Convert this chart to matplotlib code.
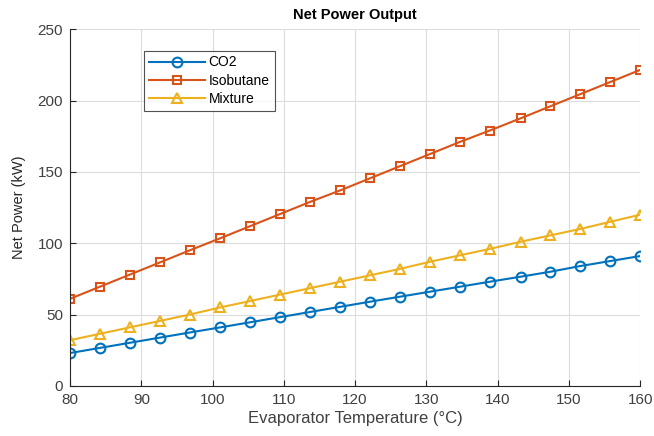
import matplotlib.pyplot as plt

plt.rcParams['font.family'] = ['Liberation Sans', 'DejaVu Sans']

# evaporator temperature (C)
temps = [80, 84.2, 88.4, 92.6, 96.8, 101.1, 105.3, 109.5, 113.7, 117.9,
         122.1, 126.3, 130.5, 134.7, 138.9, 143.2, 147.4, 151.6, 155.8, 160]
# net power (kW)
co2 = [23, 26.6, 30.2, 33.8, 37.4, 41, 44.6, 48.2, 51.8, 55.4,
       59, 62.5, 66, 69.5, 73, 76.5, 80, 84, 87.5, 91]
isobutane = [61, 69.5, 78, 86.5, 95, 103.5, 112, 120.5, 129, 137,
             145.5, 154, 162.5, 171, 179, 187.5, 196, 204.5, 213, 221.5]
mixture = [32, 36.5, 41, 45.5, 50, 55, 59.5, 64, 68.5, 73,
           77.5, 82, 87, 91.5, 96, 101, 105.5, 110, 115, 120]

fig = plt.figure(figsize=(6.54, 4.36), dpi=100)
ax = fig.add_axes([0.107, 0.115, 0.872, 0.818])

ax.plot(temps, co2, '-o', color='#0072BD', lw=1.5, ms=7, mfc='none', mew=1.5, label='CO2')
ax.plot(temps, isobutane, '-s', color='#D95319', lw=1.5, ms=6, mfc='none', mew=1.5, label='Isobutane')
ax.plot(temps, mixture, '-^', color='#EDB120', lw=1.5, ms=7, mfc='none', mew=1.5, label='Mixture')

ax.set_xlim(80, 160)
ax.set_ylim(0, 250)
ax.set_xticks(range(80, 161, 10))
ax.set_yticks(range(0, 251, 50))
ax.grid(True, color='#dcdcdc', lw=0.8)
ax.set_axisbelow(True)
for s in ['top', 'right']:
    ax.spines[s].set_visible(False)
for s in ['left', 'bottom']:
    ax.spines[s].set_color('#262626')
ax.tick_params(direction='in', labelsize=11, colors='#262626', labelcolor='#404040', length=4, pad=5)

ax.set_title('Net Power Output', fontsize=10.5, fontweight='bold', pad=7)
ax.set_xlabel('Evaporator Temperature (\u00b0C)', fontsize=12, color='#404040', labelpad=3)
ax.set_ylabel('Net Power (kW)', fontsize=10.5, color='#262626', labelpad=8)

leg = ax.legend(loc='upper left', bbox_to_anchor=(0.13, 0.94), fontsize=10,
                frameon=True, fancybox=False, edgecolor='#262626',
                handlelength=4, borderpad=0.35, labelspacing=0.3, handletextpad=0.3,
                borderaxespad=0)
leg.get_frame().set_linewidth(0.8)

fig.savefig('out.png', dpi=100)
